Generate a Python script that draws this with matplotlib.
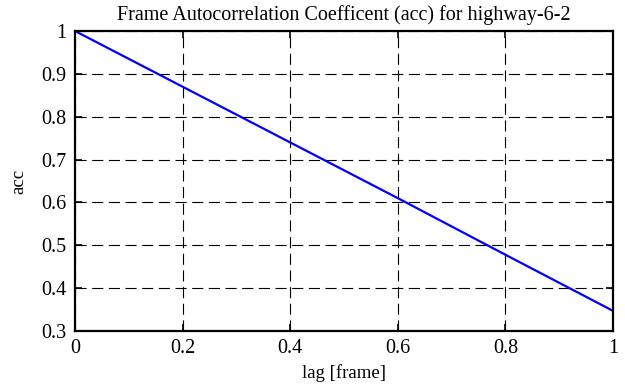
import matplotlib.pyplot as plt

lag = [0, 0.2, 0.4, 0.6, 0.8, 1.0]
acc = [1.0, 0.870, 0.740, 0.610, 0.478, 0.347]

plt.rcParams['font.family'] = 'Liberation Serif'
plt.rcParams['font.size'] = 13

fig = plt.figure(figsize=(6.25, 3.87), dpi=100)
ax = fig.add_axes([75 / 625, 1 - 331 / 387, 538 / 625, 300 / 387])

ax.plot(lag, acc, color='#0000ff', linewidth=1.6)

ax.set_xlim(0, 1)
ax.set_ylim(0.3, 1)
ax.set_xticks([0, 0.2, 0.4, 0.6, 0.8, 1])
ax.set_xticklabels(['0', '0.2', '0.4', '0.6', '0.8', '1'])
ax.set_yticks([0.3, 0.4, 0.5, 0.6, 0.7, 0.8, 0.9, 1])
ax.set_yticklabels(['0.3', '0.4', '0.5', '0.6', '0.7', '0.8', '0.9', '1'])
ax.tick_params(direction='in', top=True, right=True, length=5, width=1.2,
               pad=6, labelsize=14.5)
ax.grid(True, color='black', linestyle=(0, (10, 5)), linewidth=0.8)
for s in ax.spines.values():
    s.set_linewidth(1.6)

ax.set_xlabel('lag [frame]', fontsize=13.5, labelpad=4)
ax.set_ylabel('acc', fontsize=13.5, labelpad=10)
ax.set_title('Frame Autocorrelation Coefficent (acc) for highway-6-2', fontsize=14.5, pad=8)

plt.savefig('out.png', dpi=100)
